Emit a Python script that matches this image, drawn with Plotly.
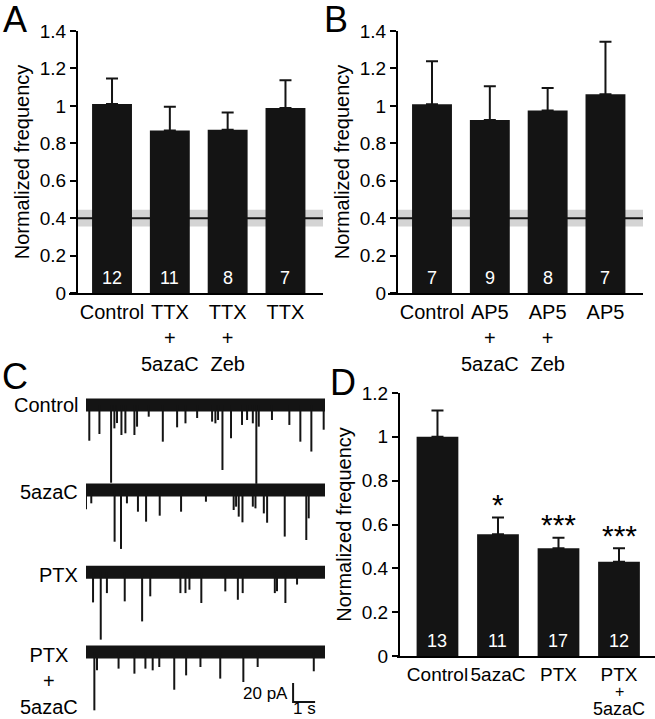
import plotly.graph_objects as go

W, H = 655, 719
FONT = "Liberation Sans, Arial, sans-serif"
INK = "#141414"

# ---------------- data ----------------
A_CATS = ["Control", "TTX<br>+<br>5azaC", "TTX<br>+<br>Zeb", "TTX"]
A_MEAN = [1.010, 0.868, 0.872, 0.988]
A_SEM = [0.136, 0.127, 0.092, 0.149]
A_N = ["12", "11", "8", "7"]

B_CATS = ["Control", "AP5<br>+<br>5azaC", "AP5<br>+<br>Zeb", "AP5"]
B_MEAN = [1.009, 0.925, 0.975, 1.062]
B_SEM = [0.230, 0.180, 0.121, 0.280]
B_N = ["7", "9", "8", "7"]

D_CATS = ["Control", "5azaC", "PTX", "PTX"]
D_CAT_EXTRA = ["+", "5azaC"]          # 2nd/3rd line under last D category
D_MEAN = [1.000, 0.556, 0.492, 0.430]
D_SEM = [0.120, 0.076, 0.048, 0.062]
D_N = ["13", "11", "17", "12"]
D_SIG = ["", "*", "***", "***"]

REF_MEAN = 0.40
REF_SEM = 0.045

AB_YTICKS = [0, 0.2, 0.4, 0.6, 0.8, 1.0, 1.2, 1.4]
AB_YTEXT = ["0", "0.2", "0.4", "0.6", "0.8", "1", "1.2", "1.4"]
D_YTICKS = [0, 0.2, 0.4, 0.6, 0.8, 1.0, 1.2]
D_YTEXT = ["0", "0.2", "0.4", "0.6", "0.8", "1", "1.2"]

# panel C: event times (s) and amplitudes (pA, downward)
TRACE_NAMES = ["Control", "5azaC", "PTX", "PTX<br>+<br>5azaC"]
CTRL_T = [0.15, 0.61, 1.14, 1.29, 1.41, 1.61, 1.79, 2.20, 2.32, 2.85, 3.49, 4.14, 4.52, 5.05,
          5.73, 5.88, 6.00, 6.20, 6.59, 7.09, 7.32, 7.58, 7.74, 7.85, 8.45, 9.24, 9.74, 10.24, 10.80]
CTRL_A = [37.6, 30.5, 81.8, 24.6, 19.0, 31.6, 29.8, 31.6, 22.8, 12.3, 38.6, 23.5, 19.3, 13.7,
          17.5, 19.3, 15.8, 68.4, 35.0, 21.0, 15.8, 19.3, 83.0, 22.8, 15.8, 21.0, 38.6, 49.0, 26.0]
AZA_T = [0.00, 0.24, 1.30, 1.59, 1.86, 2.36, 2.73, 3.35, 4.32, 5.45, 6.71, 6.82, 6.94, 7.11,
         7.58, 7.70, 8.08, 8.23, 9.03, 10.01, 10.12]
AZA_A = [20.3, 14.0, 54.4, 62.0, 14.0, 22.8, 33.3, 27.0, 22.8, 12.3, 21.0, 17.5, 28.0, 34.0,
         17.5, 19.3, 24.6, 34.4, 49.0, 52.6, 29.8]
PTX_T = [0.32, 0.67, 0.95, 1.76, 2.55, 2.92, 4.29, 4.52, 4.70, 5.24, 6.33, 6.90, 7.12, 8.58,
         8.68, 9.06, 9.59]
PTX_A = [31.8, 71.0, 22.0, 30.7, 51.8, 25.4, 22.0, 22.0, 18.4, 32.4, 20.2, 29.0, 22.0, 22.0,
         20.0, 32.4, 13.0]
PA_T = [0.38, 0.50, 1.48, 2.20, 2.70, 3.03, 3.33, 4.01, 4.55, 5.20, 6.10, 7.15, 7.80, 10.35]
PA_A = [61.4, 19.3, 17.5, 22.8, 17.5, 19.3, 15.8, 39.7, 24.6, 15.8, 28.0, 31.6, 15.8, 20.3]
TRACE_DUR = 10.86        # s
SCALE_PA = 20
SCALE_S = 1


# ---------------- helpers ----------------
def px(x):
    return x / W


def py(y):
    return 1 - y / H


def bars(xa, ya, mean, sem):
    return go.Bar(
        x=list(range(len(mean))), y=mean, width=0.69, xaxis=xa, yaxis=ya,
        marker=dict(color=INK, line=dict(width=0)),
        error_y=dict(type="data", array=sem, arrayminus=[0] * len(sem), symmetric=False,
                     color=INK, thickness=2, width=6),
        hoverinfo="skip", showlegend=False)


def xax(dom, rng, ticktext, size=20):
    return dict(domain=dom, range=rng, tickvals=list(range(len(ticktext))), ticktext=ticktext,
                ticks="", tickangle=0, showline=True, linewidth=2, linecolor="black",
                showgrid=False, zeroline=False,
                tickfont=dict(family=FONT, size=size, color="black"), fixedrange=True)


def yax(dom, rng, pos, tv, tt):
    return dict(domain=dom, range=rng, anchor="free", position=pos, tickvals=tv, ticktext=tt,
                ticks="outside", ticklen=6, tickwidth=2, tickcolor="black", showline=True,
                linewidth=2, linecolor="black", showgrid=False, zeroline=False,
                tickfont=dict(family=FONT, size=19, color="black"),
                title=dict(text="Normalized frequency", standoff=4,
                           font=dict(family=FONT, size=20, color="black")),
                fixedrange=True)


fig = go.Figure()
fig.add_trace(bars("x", "y", A_MEAN, A_SEM))
fig.add_trace(bars("x2", "y2", B_MEAN, B_SEM))
fig.add_trace(bars("x3", "y3", D_MEAN, D_SEM))

# panel C traces
offsets = [0, -89.5, -176, -260]
for (tt, aa), off in zip([(CTRL_T, CTRL_A), (AZA_T, AZA_A), (PTX_T, PTX_A), (PA_T, PA_A)], offsets):
    fig.add_trace(go.Scatter(x=[0, TRACE_DUR], y=[off, off], mode="lines", xaxis="x4", yaxis="y4",
                             line=dict(color=INK, width=13), hoverinfo="skip", showlegend=False))
    xs, ys = [], []
    for t, a in zip(tt, aa):
        xs += [t, t, None]
        ys += [off, off - a, None]
    fig.add_trace(go.Scatter(x=xs, y=ys, mode="lines", xaxis="x4", yaxis="y4",
                             line=dict(color=INK, width=2), hoverinfo="skip", showlegend=False))

# scale bar
sx0, sy0 = 9.41, -312.6
fig.add_trace(go.Scatter(x=[sx0, sx0, sx0 + SCALE_S], y=[sy0 + SCALE_PA, sy0, sy0], mode="lines",
                         xaxis="x4", yaxis="y4", line=dict(color=INK, width=2),
                         hoverinfo="skip", showlegend=False))

fig.update_layout(
    width=W, height=H, margin=dict(l=0, r=0, t=0, b=0, autoexpand=False),
    paper_bgcolor="white", plot_bgcolor="rgba(0,0,0,0)", showlegend=False,
    font=dict(family=FONT, color="black"),
    xaxis=dict(anchor="y", **xax([px(69), px(323)], [-0.744, 3.649], A_CATS)),
    yaxis=yax([py(293), py(31)], [0, 1.4], px(77), AB_YTICKS, AB_YTEXT),
    xaxis2=dict(anchor="y2", **xax([px(388), px(643)], [-0.761, 3.649], B_CATS)),
    yaxis2=yax([py(293), py(31)], [0, 1.4], px(397), AB_YTICKS, AB_YTEXT),
    xaxis3=dict(anchor="y3", **xax([px(397), px(655)], [-0.669, 3.595], D_CATS, size=19)),
    yaxis3=yax([py(656), py(393)], [0, 1.2], px(399), D_YTICKS, D_YTEXT),
    xaxis4=dict(domain=[px(86), px(325)], range=[0, TRACE_DUR], visible=False, anchor="y4",
                fixedrange=True),
    yaxis4=dict(domain=[py(719), py(390)], range=[(405 - 719) / 0.95, (405 - 390) / 0.95],
                visible=False, anchor="x4", fixedrange=True),
)

shapes = []
for yref, x0, x1 in [("y", 77, 323), ("y2", 397, 643)]:
    shapes.append(dict(type="rect", xref="paper", yref=yref, x0=px(x0), x1=px(x1),
                       y0=REF_MEAN - REF_SEM, y1=REF_MEAN + REF_SEM, fillcolor="#d4d4d4",
                       line=dict(width=0), layer="below"))
    shapes.append(dict(type="line", xref="paper", yref=yref, x0=px(x0), x1=px(x1),
                       y0=REF_MEAN, y1=REF_MEAN, line=dict(color=INK, width=2), layer="below"))
fig.update_layout(shapes=shapes)

ann = []
# n labels inside bar bases
for xr, yr, ns in [("x", "y", A_N), ("x2", "y2", B_N), ("x3", "y3", D_N)]:
    for i, n in enumerate(ns):
        ann.append(dict(text=n, xref=xr, yref=yr, x=i, y=0, yanchor="middle", yshift=15,
                        showarrow=False, font=dict(family=FONT, size=18, color="white")))
# panel letters
for letter, x, y in [("A", 1, 19), ("B", 322, 19), ("C", 0, 377), ("D", 328, 382)]:
    ann.append(dict(text=letter, xref="paper", yref="paper", x=px(x), y=py(y), xanchor="left",
                    yanchor="middle", showarrow=False, font=dict(family=FONT, size=36, color="black")))
# significance stars
for i, s in enumerate(D_SIG):
    if s:
        ann.append(dict(text=s, xref="x3", yref="y3", x=i, y=D_MEAN[i] + D_SEM[i], yshift=13,
                        yanchor="middle", showarrow=False,
                        font=dict(family=FONT, size=30, color="black")))
# extra lines under last D category (compressed, as in the original)
for txt, y, fs in zip(D_CAT_EXTRA, [691, 709], [16, 18]):
    ann.append(dict(text=txt, xref="x3", yref="paper", x=3, y=py(y), yanchor="middle",
                    showarrow=False, font=dict(family=FONT, size=fs, color="black")))
# trace labels
for name, (x, y, anchor) in zip(TRACE_NAMES, [(80, 405, "right"), (80, 492, "right"),
                                              (80, 575, "right"), (49, 681, "center")]):
    ann.append(dict(text=name, xref="paper", yref="paper", x=px(x), y=py(y), xanchor=anchor,
                    yanchor="middle", align="center", showarrow=False,
                    font=dict(family=FONT, size=20, color="black")))
# scale bar labels
ann.append(dict(text=f"{SCALE_PA} pA", xref="paper", yref="paper", x=px(290), y=py(693),
                xanchor="right", yanchor="middle", showarrow=False,
                font=dict(family=FONT, size=17, color="black")))
ann.append(dict(text=f"{SCALE_S} s", xref="paper", yref="paper", x=px(304), y=py(708),
                xanchor="center", yanchor="middle", showarrow=False,
                font=dict(family=FONT, size=17, color="black")))
fig.update_layout(annotations=ann)

fig.write_html("out.html", config={"displayModeBar": False},
               post_script="document.body.style.margin='0';document.body.style.overflow='hidden';")
